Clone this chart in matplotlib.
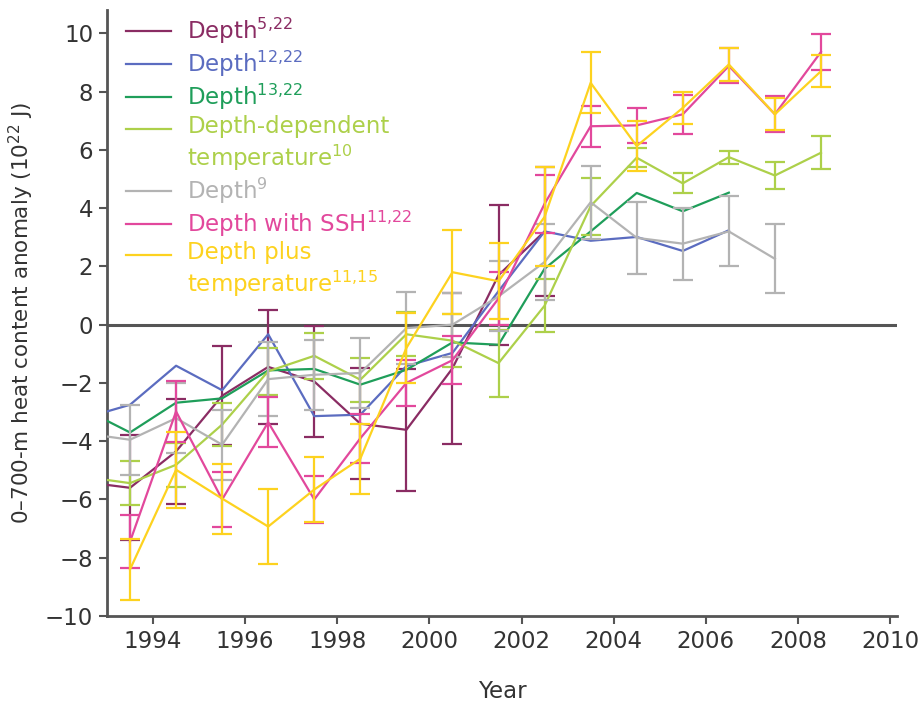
import numpy as np
import matplotlib
matplotlib.use("Agg")
from matplotlib import pyplot as plt
from matplotlib.legend_handler import HandlerLine2D

plt.rcParams['font.family'] = ['DejaVu Sans']
plt.rcParams['mathtext.default'] = 'regular'

nan = np.nan
years = np.arange(1992.5, 2009.0, 1.0)

# values (10^22 J); 1992.5 only shows as the clipped left segment
depth_5_22 = [-5.4, -5.6, -4.35, -2.44, -1.45, -1.95, -3.4, -3.61, -1.5, 1.7, 3.2,
              nan, nan, nan, nan, nan, nan]
depth_5_22_err = [nan, 1.8, 1.8, 1.7, 1.95, 1.92, 1.9, 2.1, 2.58, 2.4, 2.2,
                  nan, nan, nan, nan, nan, nan]

depth_12_22 = [-3.21, -2.75, -1.41, -2.25, -0.33, -3.14, -3.09, -1.42, -0.97, 1.15, 3.2,
               2.88, 3.01, 2.53, 3.24, nan, nan]

depth_13_22 = [-2.9, -3.7, -2.68, -2.53, -1.57, -1.52, -2.06, -1.55, -0.61, -0.69, 1.92,
               3.2, 4.52, 3.89, 4.53, nan, nan]

depth_dep_temp = [-5.22, -5.44, -4.81, -3.43, -1.6, -1.07, -1.89, -0.33, -0.55, -1.32, 0.65,
                  4.07, 5.73, 4.85, 5.75, 5.12, 5.9]
depth_dep_temp_err = [nan, 0.75, 0.75, 0.75, 0.8, 0.8, 0.75, 0.75, 0.9, 1.15, 0.9,
                      0.98, 0.33, 0.34, 0.22, 0.45, 0.57]

depth_9 = [-3.73, -3.95, -3.21, -4.12, -1.87, -1.72, -1.66, -0.12, 0.0, 0.97, 2.15,
           4.2, 2.98, 2.78, 3.2, 2.26, nan]
depth_9_err = [nan, 1.2, 1.2, 1.2, 1.28, 1.2, 1.2, 1.23, 1.1, 1.2, 1.3,
               1.25, 1.24, 1.24, 1.2, 1.18, nan]

depth_ssh = [nan, -7.45, -2.98, -6.0, -3.35, -6.0, -3.9, -2.0, -1.22, 0.9, 4.15,
             6.81, 6.84, 7.22, 8.88, 7.22, 9.36]
depth_ssh_err = [nan, 0.9, 1.05, 0.95, 0.85, 0.8, 0.85, 0.8, 0.83, 0.9, 1.0,
                 0.7, 0.6, 0.67, 0.6, 0.62, 0.63]

depth_plus_temp = [nan, -8.4, -4.98, -5.97, -6.93, -5.66, -4.6, -0.8, 1.8, 1.49, 3.7,
                   8.3, 6.13, 7.44, 8.93, 7.22, 8.7]
depth_plus_temp_err = [nan, 1.05, 1.3, 1.2, 1.29, 1.12, 1.2, 1.2, 1.44, 1.3, 1.7,
                       1.05, 0.86, 0.55, 0.55, 0.55, 0.55]

series = [
    ("Depth$^{5{,}22}$", depth_5_22, depth_5_22_err, '#8a2c63'),
    ("Depth$^{12{,}22}$", depth_12_22, None, '#5b6cc0'),
    ("Depth$^{13{,}22}$", depth_13_22, None, '#1f9e5a'),
    ("Depth-dependent\ntemperature$^{10}$", depth_dep_temp, depth_dep_temp_err, '#add04a'),
    ("Depth$^{9}$", depth_9, depth_9_err, '#b3b3b3'),
    ("Depth with SSH$^{11{,}22}$", depth_ssh, depth_ssh_err, '#e2489c'),
    ("Depth plus\ntemperature$^{11{,}15}$", depth_plus_temp, depth_plus_temp_err, '#fdd21f'),
]


class TopLine(HandlerLine2D):
    # put the legend line beside the first row of a two-row label
    def create_artists(self, legend, orig_handle, xdescent, ydescent,
                       width, height, fontsize, trans):
        artists = super().create_artists(legend, orig_handle, xdescent, ydescent,
                                         width, height, fontsize, trans)
        for a in artists:
            a.set_ydata(np.asarray(a.get_ydata()) + 0.7 * fontsize)
        return artists


fs = 16.5
fig = plt.figure(figsize=(9.23, 7.04), dpi=100)
ax = fig.add_axes([0.1159, 0.125, 0.8559, 0.8608])

ax.axhline(0, color='#555555', lw=2.2, zorder=1)

handles = []
hmap = {}
for i, (label, vals, errs, color) in enumerate(series):
    vals = np.array(vals, dtype=float)
    line, = ax.plot(years, vals, color=color, lw=1.6, label=label, zorder=3 + i)
    handles.append(line)
    if '\n' in label:
        hmap[line] = TopLine()
    if errs is not None:
        ax.errorbar(years, vals, yerr=np.array(errs, dtype=float), fmt='none',
                    ecolor=color, elinewidth=1.6, capsize=7, capthick=1.6,
                    zorder=3 + i)

ax.set_xlim(1993.0, 2010.15)
ax.set_ylim(-10, 10.8)
ax.set_xticks(np.arange(1994, 2011, 2))
ax.set_yticks(np.arange(-10, 11, 2))
ax.set_yticklabels([str(v).replace('-', '\u2212') for v in range(-10, 11, 2)])

for side in ['top', 'right']:
    ax.spines[side].set_visible(False)
for side in ['left', 'bottom']:
    ax.spines[side].set_color('#555555')
    ax.spines[side].set_linewidth(2.0)
ax.tick_params(direction='out', length=6, width=1.5, color='#555555',
               labelsize=fs, labelcolor='#333333', pad=4)

ax.set_xlabel("Year", fontsize=fs, color='#333333')
ax.set_ylabel("0\u2013700-m heat content anomaly (10$^{22}$ J)", fontsize=15.5,
              color='#333333')
ax.xaxis.set_label_coords(0.5, -0.105)
ax.yaxis.set_label_coords(-0.09, 0.5)

leg = ax.legend(handles=handles, handler_map=hmap, loc='upper left',
                bbox_to_anchor=(0.012, 1.005), frameon=False, fontsize=fs,
                handlelength=2.0, handletextpad=0.7, labelspacing=0.12,
                labelcolor='linecolor', borderaxespad=0)
for t in leg.get_texts():
    t.set_linespacing(1.2)

fig.savefig("out.png", dpi=100)
